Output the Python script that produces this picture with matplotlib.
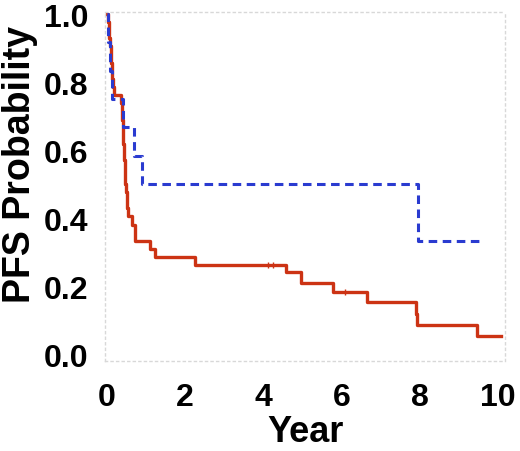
import matplotlib
matplotlib.use("Agg")
import matplotlib.pyplot as plt

# Kaplan-Meier style step data
red_time = [0.00, 0.02, 0.04, 0.05, 0.07, 0.09, 0.10, 0.12, 0.14, 0.16, 0.18,
            0.37, 0.38, 0.39, 0.40, 0.41, 0.42, 0.43, 0.44, 0.45, 0.46, 0.47,
            0.48, 0.50, 0.52, 0.54, 0.64, 0.72, 1.10, 1.23, 2.25, 4.58, 4.96,
            5.78, 6.65, 7.90, 7.93, 9.46, 10.08]
red_surv = [1.000, 0.976, 0.952, 0.929, 0.905, 0.881, 0.857, 0.833, 0.810, 0.786, 0.762,
            0.738, 0.714, 0.690, 0.667, 0.643, 0.619, 0.595, 0.571, 0.548, 0.524, 0.500,
            0.476, 0.452, 0.429, 0.405, 0.381, 0.333, 0.310, 0.286, 0.262, 0.240, 0.210,
            0.183, 0.154, 0.118, 0.086, 0.053, 0.053]
red_cens_time = [4.12, 4.25, 6.09]
red_cens_surv = [0.262, 0.262, 0.183]

blue_time = [0.00, 0.03, 0.08, 0.13, 0.41, 0.69, 0.90, 7.95, 9.54]
blue_surv = [1.000, 0.917, 0.833, 0.750, 0.667, 0.583, 0.500, 0.333, 0.333]

x_ticks = [0, 2, 4, 6, 8, 10]
y_ticks = [0.0, 0.2, 0.4, 0.6, 0.8, 1.0]

fig = plt.figure(figsize=(5.2, 4.52), dpi=100)
ax = fig.add_axes([0.202, 0.199, 0.769, 0.772])

ax.step(red_time, red_surv, where="post", color="#cc3314", lw=2.4, zorder=2)
ax.plot(red_cens_time, red_cens_surv, ls="none", marker="|", ms=5, mew=1,
        color="#cc3314", zorder=2)
ax.step(blue_time, blue_surv, where="post", color="#2a3bd0", lw=2.2,
        linestyle=(0, (2.8, 1.8)), zorder=3)

ax.set_xlim(-0.05, 10.18)
ax.set_ylim(-0.0206, 1.006)
ax.set_xticks(x_ticks)
ax.set_xticklabels([str(t) for t in x_ticks])
ax.set_yticks(y_ticks)
ax.set_yticklabels([f"{t:.1f}" for t in y_ticks])
ax.tick_params(length=0)
ax.tick_params(axis="y", pad=12)
ax.tick_params(axis="x", pad=15)
for lab in ax.get_xticklabels() + ax.get_yticklabels():
    lab.set_fontfamily("Liberation Sans")
    lab.set_fontweight("bold")
    lab.set_fontsize(23)

for sp in ax.spines.values():
    sp.set_color("#d8d8d8")
    sp.set_linestyle((0, (1.5, 2.5)))
    sp.set_linewidth(1)

fig.text(0.587, 0.004, "Year", ha="center", va="bottom", family="Liberation Sans",
         fontweight="bold", fontsize=26)
fig.text(0.003, 0.635, "PFS Probability", rotation=90, ha="left", va="center",
         family="Liberation Sans", fontweight="bold", fontsize=27)

fig.savefig("out.png", dpi=100)
